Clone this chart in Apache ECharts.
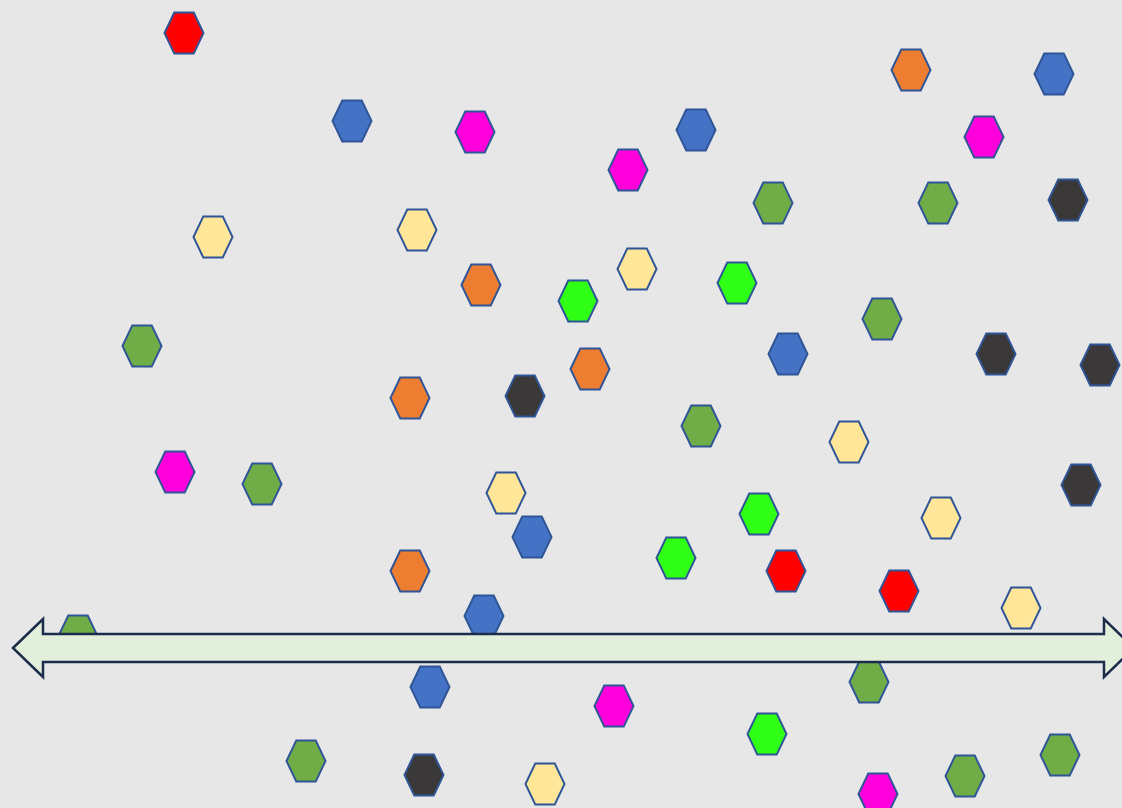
<!DOCTYPE html>
<html><head><meta charset="utf-8">
<script src="https://cdn.jsdelivr.net/npm/echarts@6/dist/echarts.min.js"></script>
<style>html,body{margin:0;padding:0;background:#e7e7e7}#c{width:1122px;height:808px}</style>
</head><body><div id="c"></div>
<script>
// hexagon centres (x, y measured downward)
const redPts = [[184,33],[786,571],[899,591]];
const bluePts = [[352,121],[696,130],[1054,74],[788,354],[532,537],[484,616],[430,687]];
const magentaPts = [[475,132],[628,170],[984,137],[175,472],[614,706],[878,794]];
const orangePts = [[911,70],[481,285],[590,369],[410,398],[410,571]];
const olivePts = [[773,203],[938,203],[882,319],[142,346],[701,426],[262,484],[78,636],[869,682],[306,761],[965,776],[1060,755]];
const limePts = [[578,301],[737,283],[759,514],[676,558],[767,734]];
const yellowPts = [[213,237],[417,230],[637,269],[849,442],[506,493],[941,518],[1021,608],[545,784]];
const darkPts = [[1068,200],[996,354],[1100,365],[525,396],[1081,485],[424,775]];
// double arrow: [left tip x, right tip x, centre y]
const arrowData = [[13,1134,648]];

const hex = 'path://M0,50 L25,0 L75,0 L100,50 L75,100 L25,100 Z';
function hexSeries(data, color){
  return {type:'scatter', data, symbol:hex, symbolSize:[39,41], z:2,
    itemStyle:{color, borderColor:'#2f5597', borderWidth:2, opacity:1}, silent:true};
}
const chart = echarts.init(document.getElementById('c'), null, {renderer:'canvas'});
chart.setOption({
  backgroundColor:'#e7e7e7',
  animation:false,
  grid:{left:0,right:0,top:0,bottom:0},
  xAxis:{type:'value',min:0,max:1122,show:false},
  yAxis:{type:'value',min:0,max:808,inverse:true,show:false},
  series:[
    hexSeries(redPts,'#ff0000'),
    hexSeries(bluePts,'#4472c4'),
    hexSeries(magentaPts,'#ff00dd'),
    hexSeries(orangePts,'#ed7d31'),
    hexSeries(olivePts,'#70ad47'),
    hexSeries(limePts,'#2eff14'),
    hexSeries(yellowPts,'#ffe699'),
    hexSeries(darkPts,'#3a3838'),
    {type:'custom', data:arrowData, z:5, silent:true,
     renderItem:function(params, api){
       const a = api.coord([api.value(0), api.value(2)]);
       const b = api.coord([api.value(1), api.value(2)]);
       const head = 30, hh = 29, sh = 14;
       const y = a[1];
       const pts = [
         [a[0], y], [a[0]+head, y-hh], [a[0]+head, y-sh], [b[0]-head, y-sh], [b[0]-head, y-hh],
         [b[0], y], [b[0]-head, y+hh], [b[0]-head, y+sh], [a[0]+head, y+sh], [a[0]+head, y+hh]
       ];
       return {type:'polygon', shape:{points:pts},
         style:{fill:'#e2efda', stroke:'#1c2c4c', lineWidth:2.5, lineJoin:'miter'}};
     }}
  ]
});
</script></body></html>
